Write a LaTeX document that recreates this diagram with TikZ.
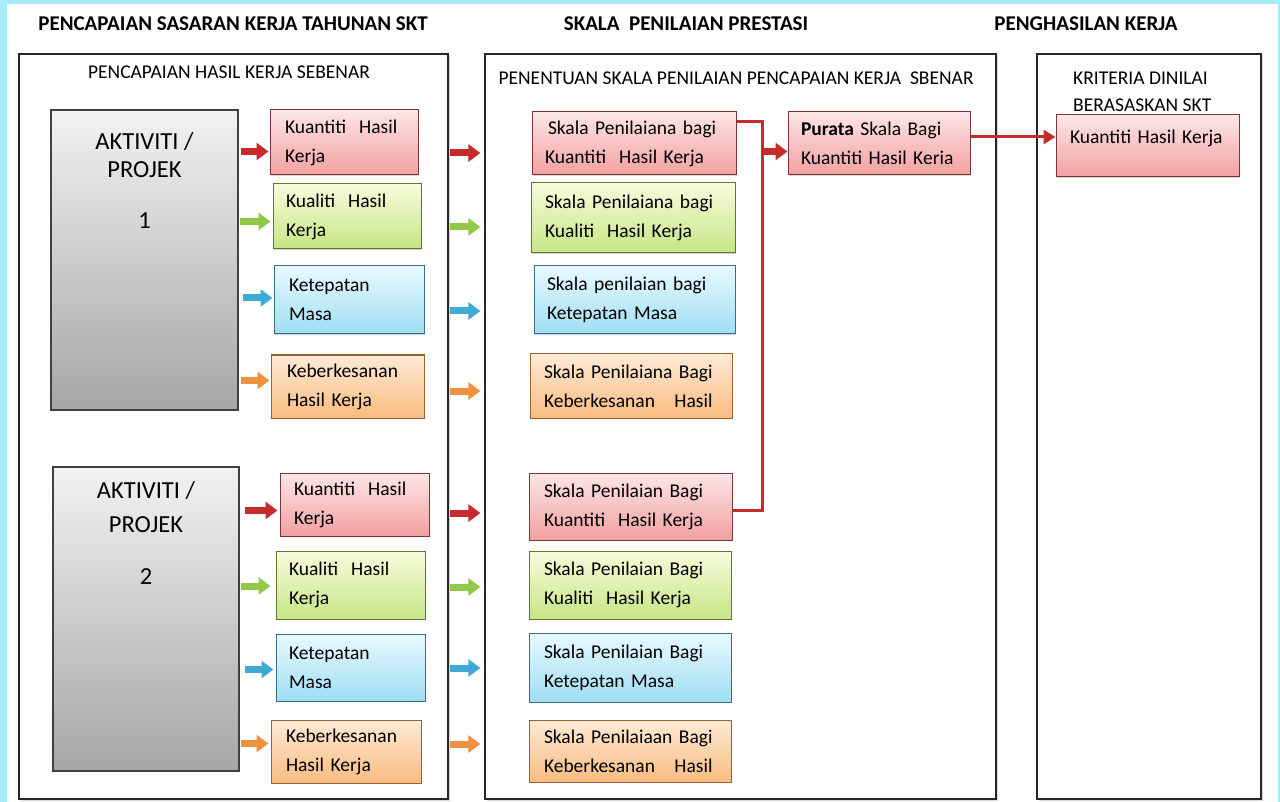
\documentclass[tikz,border=0pt]{standalone}
\usepackage{fontspec}
\setmainfont{Carlito}
\usetikzlibrary{arrows.meta,calc,shadows}
\definecolor{cyanbg}{HTML}{A6ECFB}
\definecolor{redTop}{HTML}{FDE6E6}
\definecolor{redBot}{HTML}{F2A0A0}
\definecolor{redLine}{HTML}{7A3535}
\definecolor{grnTop}{HTML}{F7FCDC}
\definecolor{grnBot}{HTML}{C6E585}
\definecolor{grnLine}{HTML}{5F7530}
\definecolor{bluTop}{HTML}{E8F9FF}
\definecolor{bluBot}{HTML}{A0DEF3}
\definecolor{bluLine}{HTML}{356F88}
\definecolor{orgTop}{HTML}{FEEAD6}
\definecolor{orgBot}{HTML}{F8BC80}
\definecolor{orgLine}{HTML}{96622F}
\definecolor{grayTop}{HTML}{F2F2F2}
\definecolor{grayBot}{HTML}{A6A6A6}
\definecolor{arrR}{HTML}{C62A2A}
\definecolor{arrG}{HTML}{92C848}
\definecolor{arrB}{HTML}{3FAAD5}
\definecolor{arrO}{HTML}{EF9240}
\newcommand\pbox[8]{%
  \pgfmathsetmacro\pbW{#5-#3}%
  \pgfmathsetmacro\pbH{#6-#4}%
  \pgfmathsetmacro\pbX{(#3+#5)/2}%
  \pgfmathsetmacro\pbY{(#4+#6)/2}%
  \pgfmathsetmacro\pbT{#5-#3-2*#7}%
  \node[#2, minimum width=\pbW pt, minimum height=\pbH pt, text width=\pbT pt, inner xsep=#7pt] (#1) at (\pbX,\pbY) {#8};}
\begin{document}
\begin{tikzpicture}[x=1pt,y=-1pt,
  panel/.style={rectangle, draw=black!85, line width=1.3pt, fill=white, inner ysep=0pt,
     drop shadow={shadow xshift=1.5pt,shadow yshift=-1.5pt,fill=black!30}},
  box/.style={rectangle, line width=1pt, align=left, inner ysep=0pt,
     font=\fontsize{19.5}{29}\selectfont,
     drop shadow={shadow xshift=1.2pt,shadow yshift=-1.2pt,fill=black!35}},
  rbox/.style={box, top color=redTop, bottom color=redBot, draw=redLine},
  gbox/.style={box, top color=grnTop, bottom color=grnBot, draw=grnLine},
  bbox/.style={box, top color=bluTop, bottom color=bluBot, draw=bluLine},
  obox/.style={box, top color=orgTop, bottom color=orgBot, draw=orgLine},
  graybox/.style={rectangle, draw=black!75, line width=1.2pt, inner ysep=0pt,
     top color=grayTop, bottom color=grayBot,
     drop shadow={shadow xshift=1.2pt,shadow yshift=-1.2pt,fill=black!35}},
  title/.style={font=\bfseries\fontsize{21}{25}\selectfont, inner sep=0pt},
  plabel/.style={font=\fontsize{19.5}{25}\selectfont, inner sep=0pt},
  gtext/.style={font=\fontsize{24.5}{28}\selectfont, inner sep=0pt},
  farrow/.style={line width=7pt, -{Triangle[length=12pt,width=17pt]}, draw=#1},
  redline/.style={line width=3pt, draw=arrR},
]
\fill[cyanbg] (0,0) rectangle (1280,802);
\fill[white] (7,4) rectangle (1278,802);
\useasboundingbox (0,0) rectangle (1280,802);

% titles
\node[title] (t1) at (233,24) {PENCAPAIAN SASARAN KERJA TAHUNAN SKT};
\node[title] (t2) at (686,24) {SKALA~~PENILAIAN PRESTASI};
\node[title] (t3) at (1086,24) {PENGHASILAN KERJA};

% panels
\pbox{p1}{panel}{19}{54}{448}{799}{0}{}
\pbox{p2}{panel}{485}{54}{996}{799}{0}{}
\pbox{p3}{panel}{1037}{54}{1261}{799}{0}{}

\node[plabel] (l1) at (229,72) {PENCAPAIAN HASIL KERJA SEBENAR};
\node[plabel] (l2) at (736,78) {PENENTUAN SKALA PENILAIAN PENCAPAIAN KERJA~~SBENAR};
\node[plabel, anchor=west] (l3) at (1073,78) {KRITERIA DINILAI};
\node[plabel, anchor=west] (l4) at (1073,105) {BERASASKAN SKT};

% gray activity boxes
\pbox{g1}{graybox}{51}{110}{238}{410}{0}{}
\pbox{g2}{graybox}{53}{467}{239}{771}{0}{}
\node[gtext] (g1a) at ($(g1.north)+(0,32)$) {AKTIVITI /};
\node[gtext] (g1b) at ($(g1.north)+(0,60)$) {PROJEK};
\node[gtext] (g1c) at ($(g1.north)+(0,111)$) {1};
\node[gtext] (g2a) at ($(g2.north)+(0,24)$) {AKTIVITI /};
\node[gtext] (g2b) at ($(g2.north)+(0,58)$) {PROJEK};
\node[gtext] (g2c) at ($(g2.north)+(0,110)$) {2};

% left column boxes
\pbox{r1}{rbox}{270}{110}{418}{175}{15}{Kuantiti~~Hasil\\Kerja}
\pbox{gr1}{gbox}{273}{184}{421}{249}{13}{Kualiti~~Hasil\\Kerja}
\pbox{b1}{bbox}{274}{266}{424}{334}{15}{Ketepatan\\Masa}
\pbox{o1}{obox}{271}{355}{424}{418}{16}{Keberkesanan\\Hasil Kerja}
\pbox{r2}{rbox}{280}{473}{429}{536}{14}{Kuantiti~~Hasil\\Kerja}
\pbox{gr2}{gbox}{276}{551}{425}{619}{13}{Kualiti~~Hasil\\Kerja}
\pbox{b2}{bbox}{276}{634}{425}{701}{13}{Ketepatan\\Masa}
\pbox{o2}{obox}{271}{720}{421}{783}{15}{Keberkesanan\\Hasil Kerja}

% middle column boxes
\pbox{s1}{rbox}{532}{112}{736}{175}{13}{\hspace{3pt}Skala Penilaiana bagi\\Kuantiti~~Hasil Kerja}
\pbox{s2}{gbox}{531}{183}{735}{253}{14}{Skala Penilaiana bagi\\Kualiti~~Hasil Kerja}
\pbox{s3}{bbox}{534}{266}{735}{334}{13}{Skala penilaian bagi\\Ketepatan Masa}
\pbox{s4}{obox}{530}{354}{732}{418}{14}{Skala Penilaiana Bagi\\Keberkesanan~~~Hasil}
\pbox{s5}{rbox}{529}{473}{732}{540}{15}{Skala Penilaian Bagi\\Kuantiti~~Hasil Kerja}
\pbox{s6}{gbox}{529}{551}{731}{619}{15}{Skala Penilaian Bagi\\Kualiti~~Hasil Kerja}
\pbox{s7}{bbox}{529}{633}{731}{702}{15}{Skala Penilaian Bagi\\Ketepatan Masa}
\pbox{s8}{obox}{529}{720}{731}{782}{15}{Skala Penilaiaan Bagi\\Keberkesanan~~~Hasil}

% right boxes
\pbox{pu}{rbox}{788}{112}{970}{175}{13}{\textbf{Purata} Skala Bagi\\Kuantiti Hasil Keria}
\pbox{cr}{rbox}{1056}{115}{1239}{177}{14}{Kuantiti Hasil Kerja\\[-11pt]\mbox{}}

% arrows gray -> boxes
\draw[farrow=arrR] ($(g1.east|-r1)+(2,9)$) -- ($(r1.west)+(-1,9)$);
\draw[farrow=arrG] ($(g1.east|-gr1)+(1,5)$) -- ($(gr1.west)+(-2,5)$);
\draw[farrow=arrB] ($(g1.east|-b1)+(4,-2)$) -- ($(b1.west)+(-1,-2)$);
\draw[farrow=arrO] ($(g1.east|-o1)+(2,-6)$) -- ($(o1.west)+(-1,-6)$);
\draw[farrow=arrR] ($(g2.east|-r2)+(5,6)$) -- ($(r2.west)+(-2,6)$);
\draw[farrow=arrG] ($(g2.east|-gr2)+(1,1)$) -- ($(gr2.west)+(-5,1)$);
\draw[farrow=arrB] ($(g2.east|-b2)+(5,2)$) -- ($(b2.west)+(-2,2)$);
\draw[farrow=arrO] ($(g2.east|-o2)+(1,-8)$) -- ($(o2.west)+(-2,-8)$);

% arrows panel 1 -> panel 2
\draw[farrow=arrR] ($(p1.east|-s1)+(1,9.5)$) -- ($(p2.west|-s1)+(-4,9.5)$);
\draw[farrow=arrG] ($(p1.east|-s2)+(1,9)$) -- ($(p2.west|-s2)+(-4,9)$);
\draw[farrow=arrB] ($(p1.east|-s3)+(1,11)$) -- ($(p2.west|-s3)+(-4,11)$);
\draw[farrow=arrO] ($(p1.east|-s4)+(1,5)$) -- ($(p2.west|-s4)+(-4,5)$);
\draw[farrow=arrR] ($(p1.east|-s5)+(1,6.5)$) -- ($(p2.west|-s5)+(-4,6.5)$);
\draw[farrow=arrG] ($(p1.east|-s6)+(1,2)$) -- ($(p2.west|-s6)+(-4,2)$);
\draw[farrow=arrB] ($(p1.east|-s7)+(1,0.5)$) -- ($(p2.west|-s7)+(-4,0.5)$);
\draw[farrow=arrO] ($(p1.east|-s8)+(1,-7)$) -- ($(p2.west|-s8)+(-4,-7)$);

% red connector joining quantity scales
\draw[redline] ($(s1.north east)+(0,10)$) -- ++(26,0) coordinate (bend) |- ($(s5.east)+(0,4)$);
\draw[farrow=arrR] ($(bend|-pu.west)+(0,8)$) -- ($(pu.west)+(0,8)$);
\draw[redline, -{Triangle[length=12pt,width=14pt]}] ($(pu.east)+(0,-6.5)$) -- ($(cr.west|-pu.east)+(0,-6.5)$);
\end{tikzpicture}
\end{document}
